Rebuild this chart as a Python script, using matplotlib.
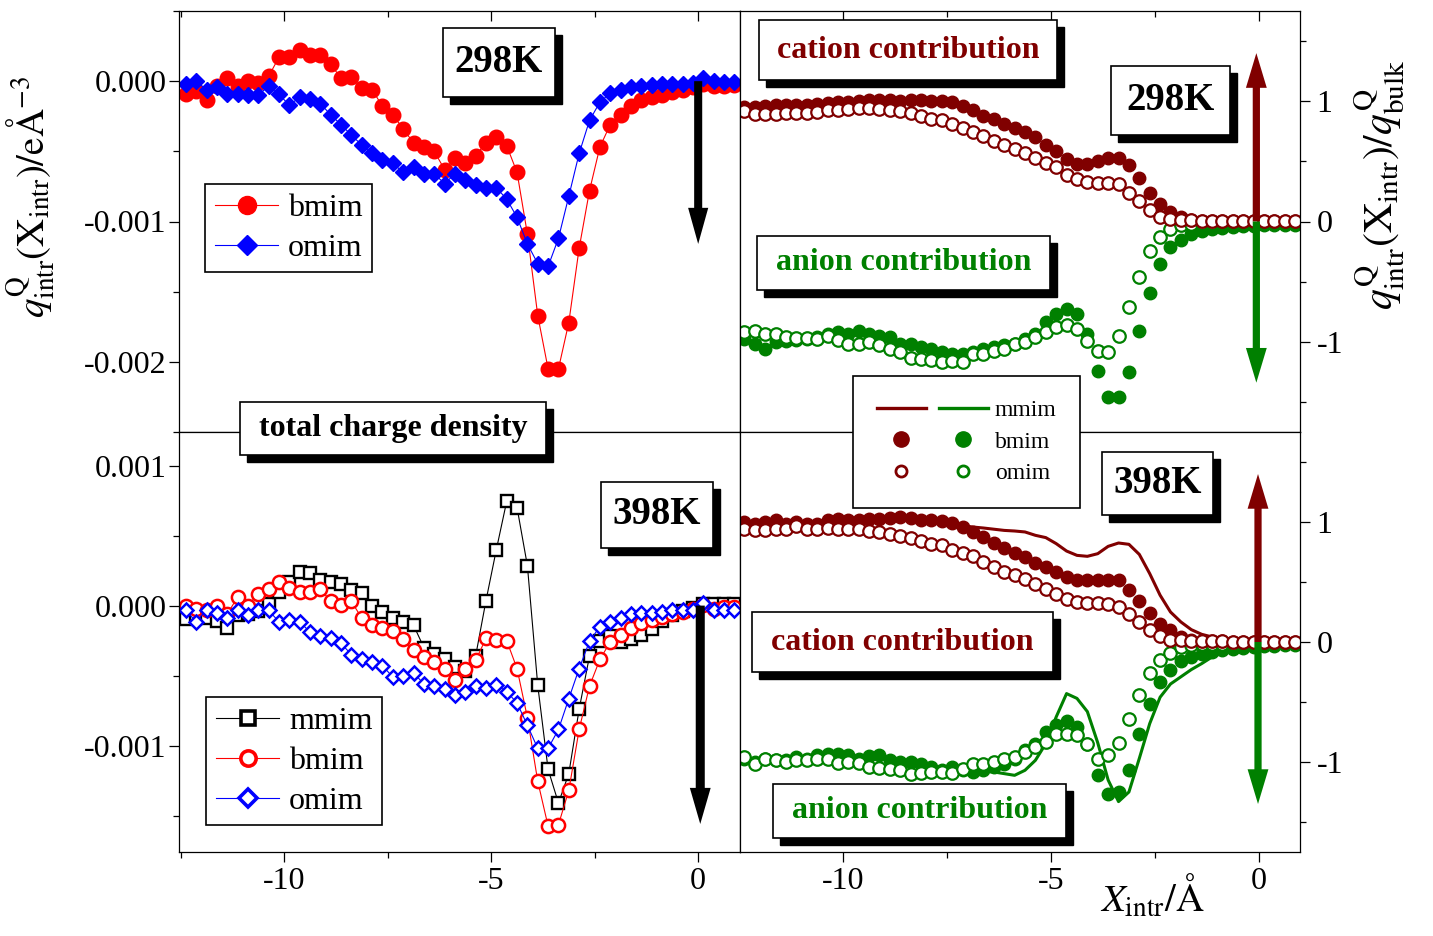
import matplotlib
matplotlib.use("Agg")
import numpy as np
import matplotlib.pyplot as plt
from matplotlib.lines import Line2D
from matplotlib.patches import Rectangle, FancyArrowPatch, ArrowStyle
from matplotlib.legend_handler import HandlerTuple
from matplotlib.ticker import MultipleLocator, FixedLocator, FuncFormatter

plt.rcParams["font.family"] = ["Liberation Serif", "DejaVu Serif"]
plt.rcParams["mathtext.fontset"] = "stix"
plt.rcParams["axes.unicode_minus"] = False

# bin centres of X_intr (Angstrom), shared by every series
x_intr = [-12.375, -12.125, -11.875, -11.625, -11.375, -11.125, -10.875, -10.625,
          -10.375, -10.125, -9.875, -9.625, -9.375, -9.125, -8.875, -8.625,
          -8.375, -8.125, -7.875, -7.625, -7.375, -7.125, -6.875, -6.625,
          -6.375, -6.125, -5.875, -5.625, -5.375, -5.125, -4.875, -4.625,
          -4.375, -4.125, -3.875, -3.625, -3.375, -3.125, -2.875, -2.625,
          -2.375, -2.125, -1.875, -1.625, -1.375, -1.125, -0.875, -0.625,
          -0.375, -0.125, 0.125, 0.375, 0.625, 0.875]

# total charge density, 298 K  (units of 1e-3 e/A^3)
tl_bmim = [-0.09, -0.07, -0.135, -0.035, 0.026, -0.035, 0.0, -0.01, 0.035, 0.17,
           0.17, 0.225, 0.185, 0.185, 0.12, 0.02, 0.03, -0.05, -0.06, -0.18,
           -0.24, -0.34, -0.44, -0.47, -0.50, -0.63, -0.55, -0.58, -0.53, -0.44,
           -0.40, -0.46, -0.65, -1.09, -1.67, -2.05, -2.05, -1.72, -1.19, -0.78,
           -0.47, -0.31, -0.24, -0.18, -0.135, -0.11, -0.10, -0.08, -0.065, -0.045,
           -0.02, -0.035, -0.035, -0.03]
tl_omim = [-0.017, 0.0, -0.06, -0.04, -0.09, -0.09, -0.10, -0.10, -0.035, -0.095,
           -0.17, -0.115, -0.125, -0.16, -0.24, -0.31, -0.385, -0.455, -0.51, -0.56,
           -0.585, -0.65, -0.61, -0.66, -0.66, -0.73, -0.66, -0.705, -0.74, -0.76,
           -0.76, -0.84, -0.97, -1.16, -1.30, -1.32, -1.12, -0.82, -0.515, -0.28,
           -0.15, -0.085, -0.065, -0.04, -0.035, -0.03, -0.02, -0.02, -0.017, -0.012,
           0.02, 0.0, -0.005, -0.005]

# total charge density, 398 K  (units of 1e-3 e/A^3)
bl_mmim = [-0.095, -0.07, -0.09, -0.11, -0.16, -0.07, -0.06, -0.04, 0.01, 0.10,
           0.17, 0.24, 0.235, 0.18, 0.17, 0.155, 0.11, 0.09, 0.0, -0.043,
           -0.09, -0.12, -0.14, -0.30, -0.345, -0.38, -0.44, -0.465, -0.36, 0.036,
           0.40, 0.745, 0.70, 0.285, -0.57, -1.17, -1.41, -1.20, -0.74, -0.36,
           -0.25, -0.22, -0.26, -0.24, -0.21, -0.17, -0.11, -0.07, -0.04, -0.02,
           0.01, 0.01, 0.01, 0.01]
bl_bmim = [0.0, -0.025, -0.035, 0.0, -0.06, 0.06, 0.0, 0.085, 0.115, 0.165,
           0.125, 0.10, 0.10, 0.12, 0.03, 0.005, 0.03, -0.09, -0.14, -0.16,
           -0.18, -0.24, -0.32, -0.37, -0.40, -0.45, -0.535, -0.45, -0.39, -0.235,
           -0.245, -0.25, -0.45, -0.80, -1.255, -1.575, -1.565, -1.32, -0.885, -0.575,
           -0.385, -0.26, -0.21, -0.16, -0.125, -0.105, -0.085, -0.06, -0.045, -0.025,
           0.005, -0.025, -0.01, -0.01]
bl_omim = [-0.035, -0.115, -0.03, -0.05, -0.09, -0.03, -0.07, -0.035, -0.035, -0.115,
           -0.10, -0.115, -0.19, -0.215, -0.23, -0.27, -0.35, -0.38, -0.40, -0.43,
           -0.51, -0.505, -0.48, -0.56, -0.575, -0.595, -0.64, -0.615, -0.575, -0.59,
           -0.565, -0.615, -0.695, -0.855, -1.02, -1.02, -0.885, -0.665, -0.45, -0.255,
           -0.15, -0.115, -0.09, -0.06, -0.05, -0.05, -0.045, -0.035, -0.035, -0.035,
           0.02, -0.035, -0.035, -0.035]

# normalised cation / anion contributions, 298 K
tr_cat_bmim = [0.95, 0.95, 0.96, 0.965, 0.97, 0.965, 0.97, 0.98, 0.985, 0.99,
               0.995, 1.0, 1.01, 1.01, 1.01, 1.0, 1.01, 1.007, 1.0, 1.0,
               0.99, 0.96, 0.93, 0.88, 0.85, 0.81, 0.78, 0.74, 0.70, 0.64,
               0.59, 0.52, 0.48, 0.48, 0.50, 0.53, 0.53, 0.47, 0.36, 0.235,
               0.145, 0.075, 0.035, 0.011, 0.006, 0.005, 0.004, 0.004, 0.003, 0.003,
               0.002, 0.002, 0.002, 0.002]
tr_cat_omim = [0.918, 0.896, 0.891, 0.896, 0.905, 0.90, 0.90, 0.913, 0.924, 0.927,
               0.932, 0.946, 0.94, 0.932, 0.924, 0.918, 0.905, 0.877, 0.849, 0.84,
               0.81, 0.78, 0.74, 0.71, 0.67, 0.64, 0.60, 0.57, 0.53, 0.49,
               0.45, 0.39, 0.35, 0.33, 0.32, 0.32, 0.31, 0.24, 0.17, 0.095,
               0.04, 0.017, 0.011, 0.011, 0.006, 0.005, 0.005, 0.004, 0.004, 0.003,
               0.003, 0.003, 0.002, 0.002]
tr_an_bmim = [-0.976, -1.018, -1.06, -1.004, -0.99, -0.985, -0.976, -0.963, -0.935, -0.92,
              -0.935, -0.907, -0.935, -0.949, -0.963, -1.018, -1.018, -1.046, -1.06, -1.087,
              -1.10, -1.10, -1.087, -1.06, -1.046, -1.03, -1.018, -0.976, -0.935, -0.838,
              -0.769, -0.728, -0.769, -0.935, -1.24, -1.46, -1.46, -1.253, -0.913, -0.598,
              -0.354, -0.216, -0.155, -0.105, -0.077, -0.064, -0.05, -0.044, -0.036, -0.036,
              -0.03, -0.028, -0.028, -0.028]
tr_an_omim = [-0.92, -0.907, -0.935, -0.935, -0.963, -0.968, -0.968, -0.976, -0.949, -0.985,
              -1.018, -1.018, -1.004, -1.03, -1.06, -1.087, -1.134, -1.142, -1.15, -1.17,
              -1.16, -1.17, -1.10, -1.10, -1.073, -1.06, -1.018, -1.004, -0.963, -0.92,
              -0.874, -0.858, -0.893, -0.99, -1.073, -1.087, -0.949, -0.714, -0.465, -0.249,
              -0.133, -0.064, -0.028, -0.017, -0.011, -0.01, -0.008, -0.008, -0.007, -0.006,
              -0.005, -0.005, -0.005, -0.005]

# normalised cation / anion contributions, 398 K
br_cat_mmim = [1.0, 0.99, 1.0, 1.01, 0.99, 1.0, 0.99, 0.99, 1.01, 1.02,
               1.01, 1.02, 1.02, 1.03, 1.03, 1.04, 1.03, 1.02, 1.01, 1.0,
               0.99, 0.97, 0.958, 0.95, 0.94, 0.93, 0.925, 0.917, 0.889, 0.87,
               0.82, 0.758, 0.722, 0.714, 0.736, 0.797, 0.825, 0.814, 0.73, 0.57,
               0.39, 0.25, 0.167, 0.103, 0.064, 0.042, 0.028, 0.019, 0.014, 0.01,
               0.008, 0.006, 0.005, 0.005]
br_cat_bmim = [1.0, 0.986, 1.0, 1.014, 0.986, 1.0, 0.986, 0.986, 1.014, 1.028,
               1.014, 1.019, 1.028, 1.028, 1.036, 1.042, 1.036, 1.019, 1.014, 1.008,
               0.992, 0.958, 0.917, 0.875, 0.825, 0.786, 0.742, 0.708, 0.658, 0.625,
               0.583, 0.542, 0.519, 0.519, 0.519, 0.519, 0.514, 0.436, 0.342, 0.242,
               0.153, 0.097, 0.042, 0.019, 0.008, 0.006, 0.005, 0.004, 0.004, 0.003,
               0.003, 0.003, 0.002, 0.002]
br_cat_omim = [0.944, 0.936, 0.936, 0.944, 0.944, 0.967, 0.944, 0.944, 0.95, 0.939,
               0.939, 0.939, 0.922, 0.917, 0.897, 0.881, 0.869, 0.839, 0.819, 0.806,
               0.764, 0.742, 0.714, 0.667, 0.625, 0.583, 0.556, 0.522, 0.486, 0.444,
               0.397, 0.361, 0.333, 0.325, 0.325, 0.319, 0.292, 0.231, 0.167, 0.097,
               0.047, 0.019, 0.014, 0.008, 0.006, 0.005, 0.005, 0.004, 0.004, 0.003,
               0.003, 0.003, 0.002, 0.002]
br_an_mmim = [-0.97, -0.99, -0.98, -0.99, -0.99, -0.96, -0.97, -0.95, -0.94, -0.94,
              -0.95, -0.97, -0.96, -0.95, -0.99, -1.0, -1.0, -1.01, -1.04, -1.06,
              -1.05, -1.07, -1.08, -1.08, -1.083, -1.097, -1.111, -1.069, -0.986, -0.847,
              -0.625, -0.43, -0.47, -0.58, -0.84, -1.15, -1.33, -1.25, -0.97, -0.68,
              -0.46, -0.35, -0.29, -0.23, -0.18, -0.125, -0.083, -0.042, -0.025, -0.015,
              -0.01, -0.008, -0.006, -0.005]
br_an_bmim = [-0.972, -1.0, -0.972, -0.986, -0.986, -0.958, -0.972, -0.944, -0.931, -0.931,
              -0.944, -0.972, -0.953, -0.944, -0.986, -1.0, -1.0, -1.014, -1.042, -1.069,
              -1.042, -1.069, -1.083, -1.069, -1.042, -1.014, -0.972, -0.903, -0.847, -0.75,
              -0.694, -0.658, -0.708, -0.847, -1.111, -1.269, -1.25, -1.069, -0.764, -0.519,
              -0.333, -0.231, -0.158, -0.125, -0.097, -0.083, -0.069, -0.056, -0.047, -0.042,
              -0.036, -0.031, -0.028, -0.028]
br_an_omim = [-0.958, -1.014, -0.972, -0.986, -1.0, -0.986, -0.986, -0.972, -0.972, -1.008,
              -1.0, -1.008, -1.042, -1.047, -1.056, -1.069, -1.103, -1.092, -1.083, -1.083,
              -1.092, -1.056, -1.014, -1.014, -1.0, -0.972, -0.958, -0.917, -0.875, -0.833,
              -0.769, -0.769, -0.778, -0.847, -0.972, -0.944, -0.842, -0.639, -0.444, -0.258,
              -0.153, -0.092, -0.042, -0.028, -0.019, -0.015, -0.014, -0.013, -0.012, -0.011,
              -0.011, -0.01, -0.01, -0.01]

DARKRED = "#800000"
GREEN = "#008000"
W, H = 1433, 936

fig = plt.figure(figsize=(W / 100, H / 100), dpi=100)


def px_axes(left, top, right, bottom):
    return fig.add_axes([left / W, 1 - bottom / H, (right - left) / W, (bottom - top) / H])


ax_tl = px_axes(179, 11, 740, 432)
ax_bl = px_axes(179, 432, 740, 852)
ax_tr = px_axes(740, 11, 1300, 432)
ax_br = px_axes(740, 432, 1300, 852)

x = np.array(x_intr)
milli = 1e-3

# --- left: total charge density ---
ax_tl.plot(x, np.array(tl_bmim) * milli, color="red", lw=0.8,
           marker="o", ms=10.5, mfc="red", mec="red")
ax_tl.plot(x, np.array(tl_omim) * milli, color="blue", lw=0.8,
           marker="D", ms=8, mfc="blue", mec="blue")

ax_bl.plot(x, np.array(bl_mmim) * milli, color="black", lw=0.8,
           marker="s", ms=8.5, mfc="white", mec="black", mew=1.7)
ax_bl.plot(x, np.array(bl_bmim) * milli, color="red", lw=0.8,
           marker="o", ms=9.5, mfc="white", mec="red", mew=1.8)
ax_bl.plot(x, np.array(bl_omim) * milli, color="blue", lw=0.8,
           marker="D", ms=7.5, mfc="white", mec="blue", mew=1.8)

# --- right: cation / anion contributions ---
dots = dict(ls="none", marker="o", ms=9)
ax_tr.plot(x, tr_an_bmim, color=GREEN, **dots)
ax_tr.plot(x, tr_an_omim, mfc="white", mec=GREEN, mew=1.6, **dots)
ax_tr.plot(x, tr_cat_bmim, color=DARKRED, **dots)
ax_tr.plot(x, tr_cat_omim, mfc="white", mec=DARKRED, mew=1.6, **dots)

ax_br.plot(x, br_an_mmim, color=GREEN, lw=2.2)
ax_br.plot(x, br_cat_mmim, color=DARKRED, lw=2.2)
ax_br.plot(x, br_an_bmim, color=GREEN, **dots)
ax_br.plot(x, br_an_omim, mfc="white", mec=GREEN, mew=1.6, **dots)
ax_br.plot(x, br_cat_bmim, color=DARKRED, **dots)
ax_br.plot(x, br_cat_omim, mfc="white", mec=DARKRED, mew=1.6, **dots)


def arrow(ax, x0, y0, y1, color, tail, head_w, head_l):
    style = ArrowStyle.Simple(head_length=head_l, head_width=head_w, tail_width=tail)
    ax.add_patch(FancyArrowPatch((x0, y0), (x0, y1), arrowstyle=style, mutation_scale=1,
                                 fc=color, ec="none", shrinkA=0, shrinkB=0, zorder=6))


arrow(ax_tl, 0.0, 0.0, -1.16e-3, "black", 5.8, 14.5, 26)
arrow(ax_bl, 0.05, 0.0, -1.56e-3, "black", 6.5, 15, 26)
arrow(ax_tr, -0.06, 0.0, 1.40, DARKRED, 5.2, 15, 25)
arrow(ax_tr, -0.06, 0.0, -1.34, GREEN, 5.2, 15, 25)
arrow(ax_br, -0.02, 0.0, 1.40, DARKRED, 5.2, 15, 25)
arrow(ax_br, -0.02, 0.0, -1.35, GREEN, 5.2, 15, 25)

# --- axes, ticks ---
for ax in (ax_tl, ax_bl):
    ax.set_xlim(-12.54, 1.01)
for ax in (ax_tr, ax_br):
    ax.set_xlim(-12.48, 0.99)
    ax.set_ylim(-1.75, 1.75)
ax_tl.set_ylim(-0.0025, 0.0005)
ax_bl.set_ylim(-0.00176, 0.00124)

ax_tl.yaxis.set_major_locator(FixedLocator([-0.002, -0.001, 0.0]))
ax_bl.yaxis.set_major_locator(FixedLocator([-0.001, 0.0, 0.001]))
milli_fmt = FuncFormatter(lambda v, _: f"{v + 0.0:.3f}")
unit_fmt = FuncFormatter(lambda v, _: f"{int(round(v))}")

for ax in (ax_tl, ax_bl, ax_tr, ax_br):
    ax.xaxis.set_major_locator(MultipleLocator(5))
    ax.xaxis.set_minor_locator(MultipleLocator(2.5))
    for s in ax.spines.values():
        s.set_linewidth(0.9)
    ax.tick_params(which="both", width=0.9, labelsize=23)
    ax.tick_params(which="major", length=7)
    ax.tick_params(which="minor", length=4)

for ax in (ax_tl, ax_bl):
    ax.yaxis.set_minor_locator(MultipleLocator(0.0005))
    ax.yaxis.set_major_formatter(milli_fmt)
    ax.tick_params(axis="y", which="both", direction="out", left=True, right=False, pad=2)

for ax in (ax_tr, ax_br):
    ax.yaxis.set_major_locator(MultipleLocator(1))
    ax.yaxis.set_minor_locator(MultipleLocator(0.5))
    ax.yaxis.set_major_formatter(unit_fmt)
    ax.yaxis.tick_right()
    ax.tick_params(axis="y", which="both", direction="out", left=False, right=True, pad=5)

for ax in (ax_tl, ax_tr):
    ax.tick_params(axis="x", which="both", direction="in", top=True, bottom=False,
                   labelbottom=False)
for ax in (ax_bl, ax_br):
    ax.tick_params(axis="x", which="both", direction="out", top=False, bottom=True)

# --- legends ---
leg_kw = dict(loc="upper left", borderaxespad=0, fancybox=False, framealpha=1,
              edgecolor="black", fontsize=23, handletextpad=0.3, borderpad=0.3,
              labelspacing=0.33, handlelength=2.0)
tl_handles = [Line2D([], [], color="red", lw=0.8, marker="o", ms=13, mfc="red", mec="red"),
              Line2D([], [], color="blue", lw=0.8, marker="D", ms=10, mfc="blue", mec="blue")]
lg = fig.legend(tl_handles, ["bmim", "omim"], bbox_to_anchor=(205 / W, 1 - 184 / H), **leg_kw)
lg.get_frame().set_linewidth(1.2)

bl_handles = [Line2D([], [], color="black", lw=0.8, marker="s", ms=10, mfc="white", mec="black", mew=2.6),
              Line2D([], [], color="red", lw=0.8, marker="o", ms=11, mfc="white", mec="red", mew=2.6),
              Line2D([], [], color="blue", lw=0.8, marker="D", ms=9, mfc="white", mec="blue", mew=2.6)]
lg = fig.legend(bl_handles, ["mmim", "bmim", "omim"], bbox_to_anchor=(206 / W, 1 - 697 / H), **leg_kw)
lg.get_frame().set_linewidth(1.2)

r_handles = [
    (Line2D([], [], color=DARKRED, lw=2.4), Line2D([], [], color=GREEN, lw=2.4)),
    (Line2D([], [], ls="none", marker="o", ms=11, color=DARKRED),
     Line2D([], [], ls="none", marker="o", ms=11, color=GREEN)),
    (Line2D([], [], ls="none", marker="o", ms=8, mfc="white", mec=DARKRED, mew=2),
     Line2D([], [], ls="none", marker="o", ms=8, mfc="white", mec=GREEN, mew=2)),
]
lg = fig.legend(r_handles, ["mmim", "bmim", "omim"],
                handler_map={tuple: HandlerTuple(ndivide=None, pad=0.55)},
                loc="upper left", bbox_to_anchor=(853 / W, 1 - 376 / H), borderaxespad=0,
                fancybox=False, framealpha=1, edgecolor="black", fontsize=17,
                handlelength=4.7, handletextpad=0.3, borderpad=1.0, labelspacing=0.42)
lg.get_frame().set_linewidth(1.2)


# --- boxed captions with drop shadow ---
def boxed(left, top, right, bottom, text, color, size):
    w, h = (right - left) / W, (bottom - top) / H
    fig.add_artist(Rectangle(((left + 7) / W, 1 - (bottom + 7) / H), w, h,
                             transform=fig.transFigure, fc="black", ec="black", zorder=20))
    fig.add_artist(Rectangle((left / W, 1 - bottom / H), w, h, transform=fig.transFigure,
                             fc="white", ec="black", lw=1.2, zorder=21))
    fig.text((left + right) / 2 / W, 1 - (top + bottom) / 2 / H, text, ha="center",
             va="center", fontsize=size, fontweight="bold", color=color, zorder=22)


boxed(443, 28, 555, 97, "298K", "black", 28)
boxed(240, 402, 546, 455, "total charge density", "black", 23)
boxed(601, 482, 713, 548, "398K", "black", 28)
boxed(759, 20, 1057, 80, "cation contribution", DARKRED, 23)
boxed(757, 236, 1050, 290, "anion contribution", GREEN, 23)
boxed(1111, 66, 1230, 135, "298K", "black", 28)
boxed(1102, 452, 1213, 515, "398K", "black", 28)
boxed(752, 612, 1053, 672, "cation contribution", DARKRED, 23)
boxed(773, 784, 1066, 838, "anion contribution", GREEN, 23)

# --- axis titles ---
fig.text(31 / W, 1 - 197 / H,
         r"$q^{\mathrm{Q}}_{\mathrm{intr}}(\mathrm{X}_{\mathrm{intr}})/\mathrm{eÅ}^{-3}$",
         rotation=90, ha="center", va="center", fontsize=28)
fig.text(1380 / W, 1 - 185 / H,
         r"$q^{\mathrm{Q}}_{\mathrm{intr}}(\mathrm{X}_{\mathrm{intr}})/q^{\mathrm{Q}}_{\mathrm{bulk}}$",
         rotation=90, ha="center", va="center", fontsize=30)
fig.text(1152 / W, 1 - 897 / H, r"$X_{\mathrm{intr}}/\mathrm{Å}$",
         ha="center", va="center", fontsize=28)

fig.savefig("out.png", dpi=100)
